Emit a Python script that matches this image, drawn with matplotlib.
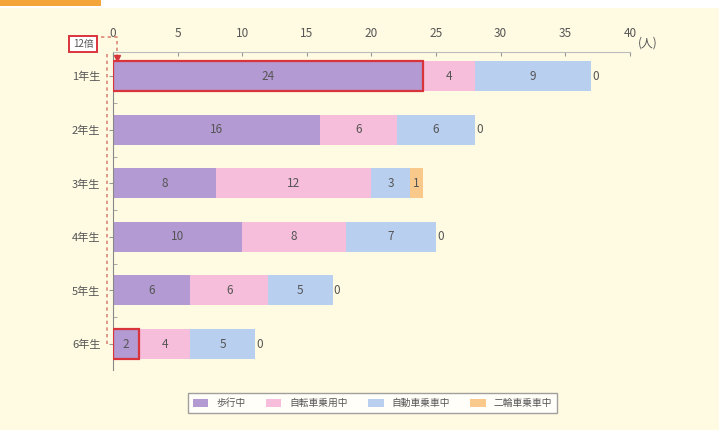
import matplotlib.pyplot as plt
from matplotlib.patches import Rectangle

plt.rcParams['font.family'] = ['Noto Sans CJK JP', 'DejaVu Sans']

grades = ["1年生", "2年生", "3年生", "4年生", "5年生", "6年生"]
series_names = ["歩行中", "自転車乗用中", "自動車乗車中", "二輪車乗車中"]
walking = [24, 16, 8, 10, 6, 2]
bicycle = [4, 6, 12, 8, 6, 4]
car = [9, 6, 3, 7, 5, 5]
motorbike = [0, 0, 1, 0, 0, 0]
x_ticks = [0, 5, 10, 15, 20, 25, 30, 35, 40]

colors = ["#b49ad2", "#f6bedb", "#b9cff0", "#f9c98c"]
text_color = "#555555"
bg = "#fffbe3"

fig = plt.figure(figsize=(7.19, 4.30), dpi=100)
fig.patch.set_facecolor(bg)

# top header strip
fig.patches.append(Rectangle((0, 0.982), 1, 0.018, transform=fig.transFigure,
                             facecolor="white", edgecolor="none"))
fig.patches.append(Rectangle((0, 0.985), 0.14, 0.015, transform=fig.transFigure,
                             facecolor="#f3a53a", edgecolor="none"))

ax = fig.add_axes([0.157, 0.14, 0.719, 0.739])
ax.set_facecolor(bg)

series = [walking, bicycle, car, motorbike]
ys = list(range(len(grades)))
left = [0] * len(grades)
bar_h = 0.56
for vals, col in zip(series, colors):
    ax.barh(ys, vals, left=left, height=bar_h, color=col, edgecolor="none")
    for i, v in enumerate(vals):
        if v > 0:
            ax.text(left[i] + v / 2, i, str(v), ha="center", va="center",
                    fontsize=8.5, color=text_color)
    left = [l + v for l, v in zip(left, vals)]

# zero labels at the end of each bar
for i, v in enumerate(motorbike):
    if v == 0:
        ax.text(left[i] + 0.35, i, "0", ha="center", va="center",
                fontsize=8.5, color=text_color)

# highlight walking segments of 1st and 6th grade
for i in (0, 5):
    ax.add_patch(Rectangle((0, i - bar_h / 2), walking[i], bar_h,
                           facecolor="none", edgecolor="#d9343c", lw=1.6, zorder=5))

ax.set_xlim(0, 40)
ax.set_ylim(5.48, -0.45)
ax.xaxis.tick_top()
ax.set_xticks(x_ticks)
ax.set_xticklabels([str(t) for t in x_ticks])
ax.text(40.6, -0.5, "(人)", ha="left", va="bottom", fontsize=8.5,
        color=text_color, transform=ax.transData)
ax.tick_params(axis="x", direction="in", length=3, colors="#999999",
               labelcolor=text_color, labelsize=8.5, pad=9)
ax.set_yticks(ys)
ax.set_yticklabels(grades)
ax.set_yticks([y + 0.5 for y in ys[:-1]], minor=True)
ax.tick_params(axis="y", which="major", length=3, colors="#999999",
               labelcolor=text_color, labelsize=8, pad=6)
ax.tick_params(axis="y", which="minor", length=3, direction="in", colors="#999999")
for side in ("right", "bottom"):
    ax.spines[side].set_visible(False)
ax.spines["top"].set_color("#bbbbbb")
ax.spines["left"].set_color("#888888")

# ratio callout with dashed guide lines
ax.text(-2.3, -0.6, "12倍", ha="center", va="center", fontsize=7,
        color=text_color, clip_on=False,
        bbox=dict(boxstyle="square,pad=0.35", facecolor="white",
                  edgecolor="#d9343c", lw=1.4))
ax.plot([-0.45, -0.45], [-0.42, 5.0], ls=(0, (2, 2)), color="#d98a7a",
        lw=1.2, clip_on=False)
ax.plot([-0.9, 0.3, 0.3], [-0.73, -0.73, -0.35], ls=(0, (2, 2)),
        color="#d98a7a", lw=1.2, clip_on=False)
ax.plot([0.3], [-0.33], marker="v", color="#d9343c", markersize=5,
        clip_on=False)

handles = [Rectangle((0, 0), 1, 1, facecolor=c, edgecolor="none") for c in colors]
leg = fig.legend(handles, series_names, loc="center", ncol=4,
                 bbox_to_anchor=(0.518, 0.062), fontsize=7, frameon=True,
                 fancybox=False, handlelength=1.6, handleheight=0.8,
                 columnspacing=2.1, borderpad=0.5, labelcolor=text_color)
leg.get_frame().set_edgecolor("#888888")
leg.get_frame().set_facecolor("white")

fig.savefig("out.png", dpi=100, facecolor=bg)
